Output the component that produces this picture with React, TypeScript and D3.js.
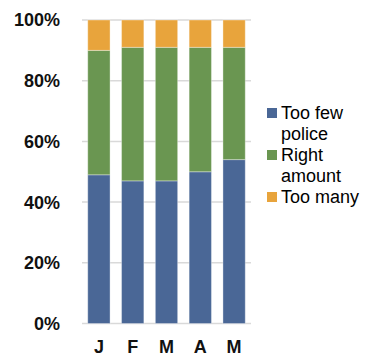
import React from "react";
import * as d3 from "d3";

const months = ["J", "F", "M", "A", "M"];
const tooFew = [49, 47, 47, 50, 54];
const rightAmount = [41, 44, 44, 41, 37];
const tooMany = [10, 9, 9, 9, 9];
const seriesNames = ["Too few police", "Right amount", "Too many"];
const seriesColors = ["#4a6796", "#6a9651", "#e8a43c"];
const yTicks = [0, 20, 40, 60, 80, 100];

const W = 369;
const H = 358;
const plot = { left: 82, right: 251, top: 20, bottom: 323.5 };
const font = "'Liberation Sans', Arial, sans-serif";

export default function App() {
  const keys = ["few", "right", "many"];
  const rows = months.map((m, i) => ({
    idx: i,
    few: tooFew[i],
    right: rightAmount[i],
    many: tooMany[i],
  }));
  const stack = d3.stack<any>().keys(keys)(rows);

  const x = d3
    .scaleBand<number>()
    .domain(months.map((_, i) => i))
    .range([plot.left, plot.right])
    .paddingInner(0.34)
    .paddingOuter(0.17);
  const y = d3.scaleLinear().domain([0, 100]).range([plot.bottom, plot.top]);

  const legendLines = [
    { text: "Too few", swatch: 0 },
    { text: "police", swatch: -1 },
    { text: "Right", swatch: 1 },
    { text: "amount", swatch: -1 },
    { text: "Too many", swatch: 2 },
  ];

  return (
    <svg
      width={W}
      height={H}
      style={{ position: "fixed", top: 0, left: 0, background: "#fff" }}
    >
      {yTicks.map((t) => (
        <g key={t}>
          <line
            x1={plot.left}
            x2={plot.right}
            y1={y(t)}
            y2={y(t)}
            stroke="#d9d9d9"
            strokeWidth={1.5}
          />
          <text
            x={60}
            y={y(t)}
            dy="0.36em"
            textAnchor="end"
            fontFamily={font}
            fontSize={18}
            fontWeight="bold"
            fill="#111"
          >
            {t}%
          </text>
        </g>
      ))}
      {stack.map((layer, si) => (
        <g key={si} fill={seriesColors[si]}>
          {layer.map((d, i) => (
            <rect
              key={i}
              x={x(i)}
              width={x.bandwidth()}
              y={y(d[1])}
              height={y(d[0]) - y(d[1])}
              stroke="#ffffff"
              strokeOpacity={0.35}
              strokeWidth={1}
            />
          ))}
        </g>
      ))}
      {months.map((m, i) => (
        <text
          key={i}
          x={(x(i) as number) + x.bandwidth() / 2}
          y={353}
          textAnchor="middle"
          fontFamily={font}
          fontSize={18}
          fontWeight="bold"
          fill="#111"
        >
          {m}
        </text>
      ))}
      {legendLines.map((l, i) => (
        <g key={i}>
          {l.swatch >= 0 && (
            <rect
              x={267}
              y={119 + i * 21 - 11}
              width={10}
              height={10}
              fill={seriesColors[l.swatch]}
            />
          )}
          <text
            x={281}
            y={119 + i * 21}
            fontFamily={font}
            fontSize={18}
            fill="#000"
          >
            {l.text}
          </text>
        </g>
      ))}
    </svg>
  );
}
